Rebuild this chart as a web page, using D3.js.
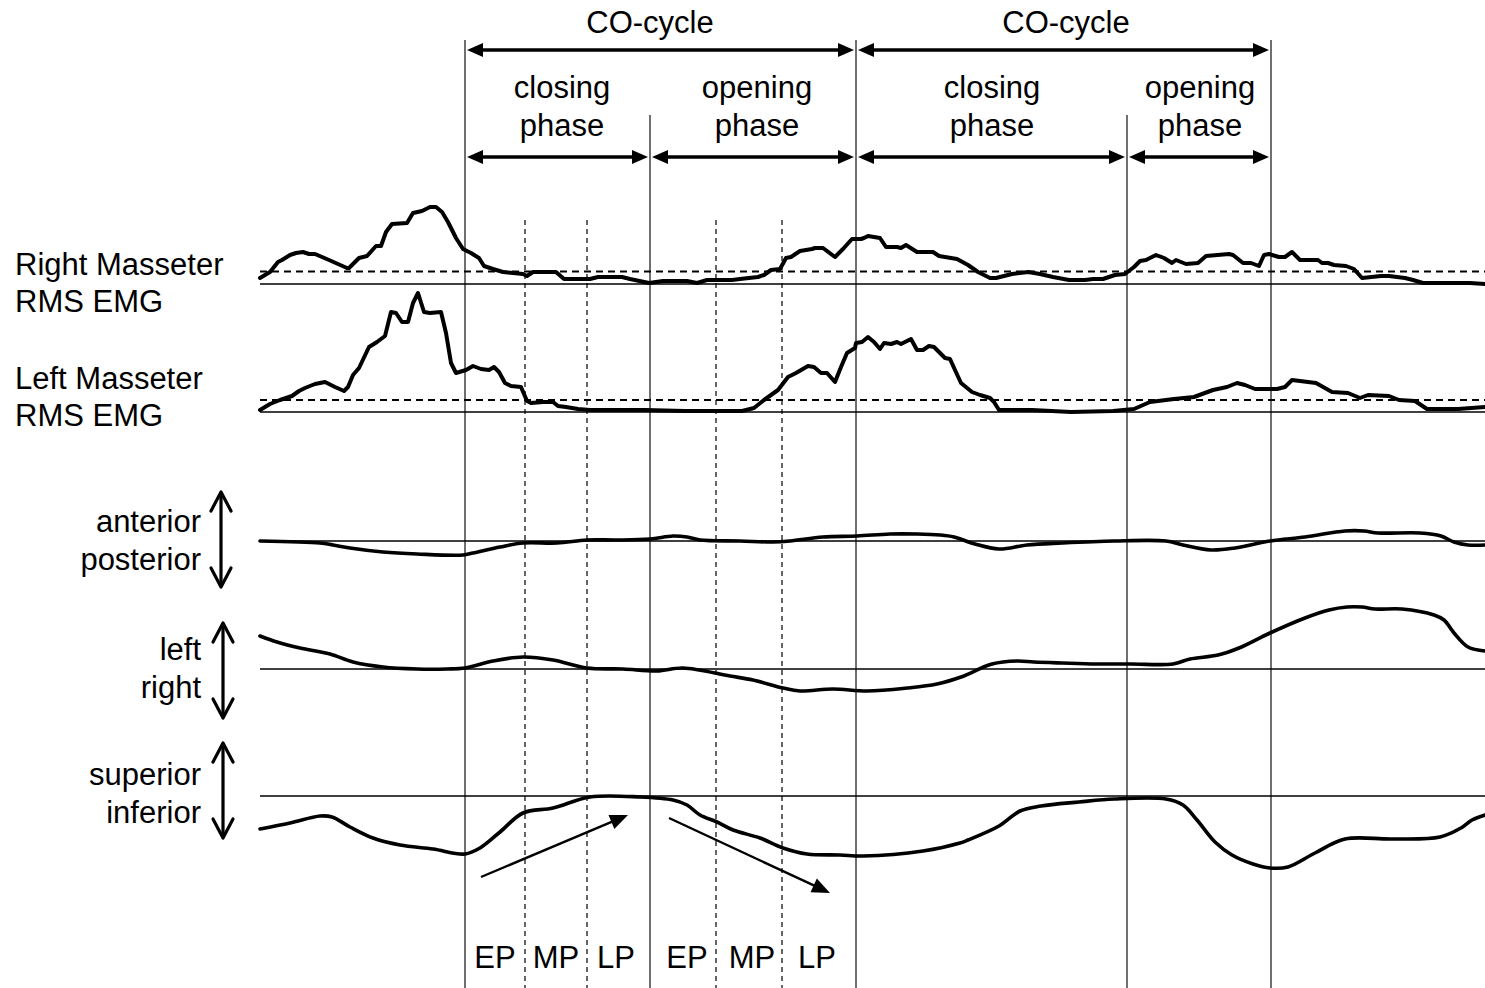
<!DOCTYPE html>
<html>
<head>
<meta charset="utf-8">
<script src="https://cdn.jsdelivr.net/npm/d3@7"></script>
<style>
  html, body { margin: 0; padding: 0; background: #fff; }
  svg text { font-family: "Liberation Sans", Arial, sans-serif; fill: #000; }
</style>
</head>
<body>
<svg id="chart" width="1485" height="988"></svg>
<script>
// ---------------- DATA ----------------
// time axis in ms (0 .. 1225)
const timeDomain = [0, 1225];

// cycle / phase boundaries (ms) and their kind
const boundaryTimes = [205, 390, 596, 867, 1011];
const boundaryKinds = ["cycle", "phase", "cycle", "phase", "cycle"];
// sub-phase (EP/MP/LP) boundaries
const subPhaseTimes = [265, 327, 456, 522];

// labels
const cycleLabels = ["CO-cycle", "CO-cycle"];
const cycleLabelTimes = [390, 806];
const cycleSpans = [[205, 596], [596, 1011]];
const phaseLabels = [["closing", "phase"], ["opening", "phase"], ["closing", "phase"], ["opening", "phase"]];
const phaseLabelTimes = [302, 497, 732, 940];
const phaseSpans = [[205, 390], [390, 596], [596, 867], [867, 1011]];
const subPhaseLabels = ["EP", "MP", "LP", "EP", "MP", "LP"];
const subPhaseLabelTimes = [235, 296, 356, 427, 492, 557];

const emgLabels = [["Right Masseter", "RMS EMG"], ["Left Masseter", "RMS EMG"]];
const motionLabels = [["anterior", "posterior"], ["left", "right"], ["superior", "inferior"]];

// RMS EMG (arbitrary units) [time, value]
const rightMasseter = [
  [0,6],[10,12],[18,22],[22,24],[30,29],[36,31],[43,32],[49,30],[55,30],[69,24],[87,16],[89,16],
  [99,26],[107,28],[116,38],[121,38],[126,52],[132,60],[147,61],[153,71],[162,73],[170,77],[176,77],
  [182,72],[188,62],[196,46],[203,35],[211,31],[219,26],[224,18],[233,15],[243,12],[253,11],[263,10],
  [267,8],[273,12],[296,12],[304,5],[330,5],[338,7],[362,7],[370,5],[389,1],[403,3],[427,3],[437,1],
  [447,4],[472,4],[480,5],[498,7],[504,9],[511,14],[520,15],[526,26],[531,27],[540,33],[552,35],
  [555,36],[563,36],[575,27],[583,35],[592,45],[601,45],[604,46],[608,48],[620,46],[626,37],[637,37],
  [641,36],[646,39],[657,32],[673,32],[679,28],[697,25],[708,19],[718,12],[730,6],[736,6],[752,10],
  [768,12],[780,10],[793,7],[809,4],[825,4],[833,5],[843,5],[855,9],[865,10],[874,17],[880,23],
  [886,24],[896,29],[904,26],[912,21],[916,24],[926,20],[938,21],[946,28],[969,30],[973,29],[983,21],
  [991,21],[999,18],[1004,29],[1009,30],[1019,27],[1025,27],[1032,32],[1040,24],[1058,24],[1062,21],
  [1068,21],[1074,19],[1086,18],[1094,15],[1102,6],[1121,8],[1129,8],[1145,6],[1153,4],[1163,1],
  [1177,1],[1198,1],[1210,1],[1225,0]
];
const leftMasseter = [
  [0,2],[10,8],[20,12],[32,16],[39,21],[45,24],[55,28],[65,30],[75,25],[84,21],[88,25],[93,37],
  [99,44],[109,65],[117,70],[125,76],[131,100],[136,99],[142,90],[148,90],[153,109],[158,119],
  [164,100],[170,99],[181,100],[186,79],[191,49],[196,39],[206,42],[213,46],[221,43],[229,42],
  [234,45],[239,40],[245,29],[251,26],[261,25],[267,11],[271,9],[283,10],[293,10],[298,6],[306,5],
  [318,3],[330,2],[362,2],[385,2],[425,1],[457,1],[482,1],[494,4],[504,12],[518,22],[528,35],
  [536,39],[548,46],[554,45],[561,39],[567,39],[575,30],[581,45],[587,59],[595,64],[596,69],[602,70],
  [608,75],[614,70],[620,63],[624,69],[631,68],[637,70],[641,68],[651,73],[657,62],[663,62],[669,66],
  [674,65],[685,54],[690,53],[695,42],[701,29],[712,20],[720,17],[730,14],[734,10],[739,2],[772,2],
  [811,0],[853,1],[874,3],[890,10],[906,12],[914,13],[934,15],[953,22],[967,25],[977,29],[985,27],
  [995,23],[1007,23],[1017,23],[1025,25],[1032,32],[1040,31],[1056,29],[1072,20],[1088,19],
  [1100,14],[1108,17],[1129,16],[1139,12],[1155,11],[1167,3],[1198,3],[1225,5]
];
const emgThreshold = [12.5, 12];

// jaw motion (arbitrary units, + = anterior / left / superior)
const anteriorPosterior = [
  [0,0],[60,-2],[73,-4],[90,-7],[123,-11],[157,-13],[203,-14],[213,-12],[240,-6],[263,-2],[297,-2],
  [327,1],[357,1],[390,2],[413,5],[427,4],[440,1],[480,0],[513,-1],[530,0],[563,4],[597,5],[630,7],
  [657,7],[680,6],[694,4],[715,-3],[739,-8],[767,-4],[802,-2],[854,0],[906,0],[923,-4],[951,-9],
  [975,-7],[1010,0],[1045,4],[1085,10],[1104,10],[1118,8],[1160,8],[1181,5],[1194,-1],[1208,-4],[1225,-4]
];
const leftRight = [
  [0,33],[17,27],[40,21],[70,15],[93,7],[123,2],[157,0],[187,0],[205,1],[233,8],[263,12],[293,9],
  [327,1],[363,0],[397,-2],[423,1],[470,-7],[493,-11],[523,-19],[540,-22],[573,-20],[607,-22],
  [647,-19],[677,-15],[701,-8],[732,5],[757,8],[774,7],[802,6],[836,5],[871,5],[913,5],[930,10],
  [958,14],[979,21],[1010,36],[1045,51],[1069,59],[1087,62],[1102,62],[1115,60],[1142,60],[1174,54],
  [1184,49],[1194,36],[1208,22],[1225,18]
];
const superiorInferior = [
  [0,-33],[30,-27],[60,-20],[72,-21],[90,-31],[113,-42],[140,-49],[173,-53],[205,-58],[220,-52],
  [240,-36],[263,-17],[293,-12],[330,-1],[380,-1],[413,-4],[427,-9],[440,-19],[457,-26],[473,-34],
  [500,-42],[523,-52],[547,-58],[580,-59],[603,-60],[663,-55],[700,-47],[708,-44],[739,-30],
  [760,-15],[781,-10],[819,-6],[854,-3],[906,-3],[923,-9],[937,-24],[955,-46],[972,-59],[993,-68],
  [1010,-72],[1028,-71],[1055,-57],[1085,-43],[1132,-43],[1180,-41],[1201,-32],[1212,-24],[1225,-19]
];
// direction arrows on the superior/inferior trace: [[t0,v0],[t1,v1]]
const motionArrows = [[[221,-81],[368,-19]], [[409,-22],[570,-97]]];

// ---------------- DRAW ----------------
const svg = d3.select("#chart");
const H = 988;
const x = d3.scaleLinear().domain(timeDomain).range([260, 1485]);
const mkY = base => d3.scaleLinear().domain([0, 100]).range([base, base - 100]);

const yRM = mkY(284), yLM = mkY(412), yAP = mkY(541), yLR = mkY(669), ySI = mkY(796);

// vertical boundary lines
svg.append("g").selectAll("line").data(boundaryTimes).join("line")
  .attr("x1", d => x(d)).attr("x2", d => x(d))
  .attr("y1", (d, i) => boundaryKinds[i] === "cycle" ? 40 : 115).attr("y2", H)
  .attr("stroke", "#222").attr("stroke-width", 1.3);

svg.append("g").selectAll("line").data(subPhaseTimes).join("line")
  .attr("x1", d => x(d)).attr("x2", d => x(d))
  .attr("y1", 220).attr("y2", H)
  .attr("stroke", "#000").attr("stroke-width", 1.2).attr("stroke-dasharray", "5,4");

// horizontal baselines
[yRM, yLM, yAP, yLR, ySI].forEach(y => {
  svg.append("line").attr("x1", x(timeDomain[0])).attr("x2", x(timeDomain[1]))
    .attr("y1", y(0)).attr("y2", y(0)).attr("stroke", "#000").attr("stroke-width", 1.5);
});
// EMG thresholds
[[yRM, emgThreshold[0]], [yLM, emgThreshold[1]]].forEach(([y, v]) => {
  svg.append("line").attr("x1", x(timeDomain[0])).attr("x2", x(timeDomain[1]))
    .attr("y1", y(v)).attr("y2", y(v)).attr("stroke", "#000").attr("stroke-width", 1.8)
    .attr("stroke-dasharray", "7,5");
});

// traces
const drawTrace = (data, y, curve, w) => {
  svg.append("path").datum(data)
    .attr("d", d3.line().x(d => x(d[0])).y(d => y(d[1])).curve(curve))
    .attr("fill", "none").attr("stroke", "#000").attr("stroke-width", w)
    .attr("stroke-linejoin", "round").attr("stroke-linecap", "round");
};
drawTrace(rightMasseter, yRM, d3.curveLinear, 4);
drawTrace(leftMasseter, yLM, d3.curveLinear, 4);
drawTrace(anteriorPosterior, yAP, d3.curveCatmullRom.alpha(0.5), 3.6);
drawTrace(leftRight, yLR, d3.curveCatmullRom.alpha(0.5), 3.6);
drawTrace(superiorInferior, ySI, d3.curveCatmullRom.alpha(0.5), 3.6);

// filled arrow head helper
function arrowHead(g, tipX, tipY, angle, len, half) {
  const ca = Math.cos(angle), sa = Math.sin(angle);
  const bx = tipX - len * ca, by = tipY - len * sa;
  const p = [[tipX, tipY], [bx - half * sa, by + half * ca], [bx + half * sa, by - half * ca]];
  g.append("path").attr("d", "M" + p.map(q => q.join(",")).join("L") + "Z").attr("fill", "#000");
}

// horizontal double arrows
function doubleArrow(t0, t1, yPix) {
  const g = svg.append("g");
  const a = x(t0) + 2, b = x(t1) - 2;
  g.append("line").attr("x1", a + 8).attr("x2", b - 8).attr("y1", yPix).attr("y2", yPix)
    .attr("stroke", "#000").attr("stroke-width", 3.5);
  arrowHead(g, a, yPix, Math.PI, 16, 7);
  arrowHead(g, b, yPix, 0, 16, 7);
}
cycleSpans.forEach(s => doubleArrow(s[0], s[1], 50));
phaseSpans.forEach(s => doubleArrow(s[0], s[1], 157));

// top labels
svg.append("g").selectAll("text").data(cycleLabels).join("text")
  .attr("x", (d, i) => x(cycleLabelTimes[i])).attr("y", 33)
  .attr("text-anchor", "middle").attr("font-size", 31).text(d => d);
phaseLabels.forEach((lines, i) => {
  lines.forEach((s, j) => {
    svg.append("text").attr("x", x(phaseLabelTimes[i])).attr("y", 98 + j * 38)
      .attr("text-anchor", "middle").attr("font-size", 31).text(s);
  });
});

// EMG labels
emgLabels.forEach((lines, i) => {
  lines.forEach((s, j) => {
    svg.append("text").attr("x", 15).attr("y", 275 + i * 114 + j * 37)
      .attr("font-size", 31).text(s);
  });
});

// motion labels + double open arrows
const motionLabelBase = [532, 660, 785];
const motionArrowSpans = [[492, 587, 221], [623, 718, 223], [743, 838, 223]];
motionLabels.forEach((lines, i) => {
  lines.forEach((s, j) => {
    svg.append("text").attr("x", 201).attr("y", motionLabelBase[i] + j * 38)
      .attr("text-anchor", "end").attr("font-size", 31).text(s);
  });
  const [t, b, ax] = motionArrowSpans[i];
  const g = svg.append("g").attr("fill", "none").attr("stroke", "#000").attr("stroke-width", 3.2)
    .attr("stroke-linecap", "round").attr("stroke-linejoin", "round");
  g.append("line").attr("x1", ax).attr("x2", ax).attr("y1", t + 1).attr("y2", b - 1);
  g.append("path").attr("d", `M${ax - 10},${t + 19}L${ax},${t}L${ax + 10},${t + 19}`);
  g.append("path").attr("d", `M${ax - 10},${b - 19}L${ax},${b}L${ax + 10},${b - 19}`);
});

// direction arrows on SI trace
motionArrows.forEach(([p0, p1]) => {
  const x0 = x(p0[0]), y0 = ySI(p0[1]), x1 = x(p1[0]), y1 = ySI(p1[1]);
  const ang = Math.atan2(y1 - y0, x1 - x0);
  const g = svg.append("g");
  g.append("line").attr("x1", x0).attr("y1", y0)
    .attr("x2", x1 - 12 * Math.cos(ang)).attr("y2", y1 - 12 * Math.sin(ang))
    .attr("stroke", "#000").attr("stroke-width", 2.4);
  arrowHead(g, x1, y1, ang, 18, 7.5);
});

// sub-phase labels
svg.append("g").selectAll("text").data(subPhaseLabels).join("text")
  .attr("x", (d, i) => x(subPhaseLabelTimes[i])).attr("y", 968)
  .attr("text-anchor", "middle").attr("font-size", 31).text(d => d);
</script>
</body>
</html>
